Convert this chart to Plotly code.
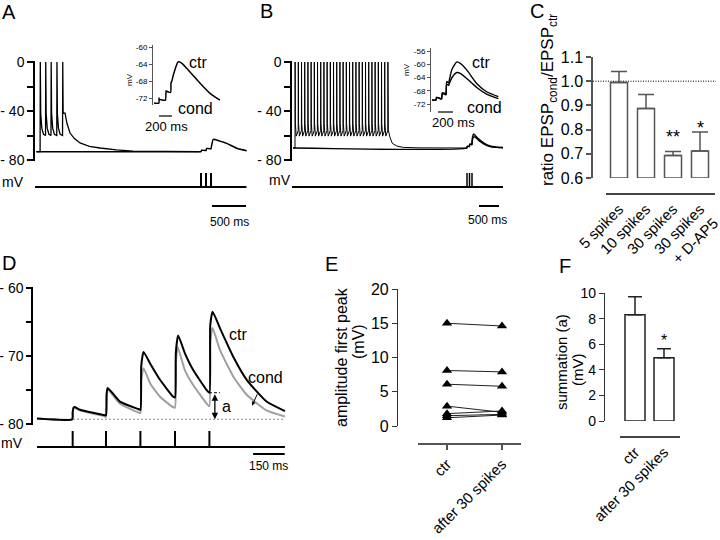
import plotly.graph_objects as go

W, H = 720, 540
FONT = "Liberation Sans, Arial, Helvetica, sans-serif"

# ----------------------------- DATA -----------------------------
# Panel A (time in ms, membrane potential in mV)
A_base = -73.2
A_start_t = 20
A_spike_t = [75, 155, 235, 320, 405]
A_spike_pre_v = -60
A_post_dt = [3, 9, 25, 50]
A_post_v = [0, -42, -54, -59]
A_decay_t = [441, 470, 515, 580, 662, 800, 956, 1200, 1441, 1900, 2416]
A_decay_v = [-41.6, -50.0, -58.0, -62.5, -66.1, -68.8, -70.2, -71.8, -72.7, -73.1, -73.2]
A_epsp_t = [2416, 2441, 2450, 2512, 2515, 2525, 2585, 2588, 2600, 2622, 2700, 2819, 2966, 3113]
A_epsp_v = [-73.2, -73.2, -72.0, -72.3, -72.3, -70.6, -70.9, -70.9, -67.5, -63.1, -64.3, -66.4, -70.4, -72.4]
A_stim_t = [2441, 2515, 2588]
A_stim_line_t = [0, 3110]
A_scale_t0 = 2603
A_scale_ms = 500

# Panel A inset
A_in_t = [15, 90, 92, 96, 190, 200, 206, 270, 277, 290, 313, 354, 385, 441, 518, 723, 877, 1031]
A_in_v = [-73.2, -73.2, -72.0, -72.3, -72.5, -70.3, -70.4, -70.7, -68.5, -68.0, -66.6, -64.6, -63.5,
          -63.8, -65.0, -68.5, -70.9, -72.5]
A_in_ticks = [-72, -68, -64, -60]
A_in_scale_t0 = 92
A_in_scale_ms = 200

# Panel B
B_base = -70.2
B_start_t = 25
B_spike_t = [75, 155, 235, 315, 395, 475, 555, 635, 715, 795, 875, 955, 1035, 1115, 1195,
             1275, 1355, 1435, 1515, 1595, 1675, 1755, 1835, 1915, 1995, 2075, 2155, 2235, 2315, 2395]
B_spike_pre_v = -56
B_post_dt = [3, 9, 30]
B_post_v = [0, -50, -60.5]
B_decay_t = [2408, 2450, 2508, 2618, 2783, 3200, 4375]
B_decay_v = [-55.5, -61.5, -66.4, -68.6, -69.7, -70.1, -70.2]
B_epsp_t = [4375, 4380, 4390, 4436, 4440, 4452, 4498, 4502, 4515, 4540, 4565, 4620, 4700, 4800, 4950, 5100, 5275]
B_ctr_v = [-70.2, -69.0, -68.8, -69.0, -67.5, -67.0, -67.3, -64.5, -61.0, -58.8, -59.4, -61.5, -63.8, -66.3, -68.6, -69.4, -69.8]
B_cond_v = [-70.2, -69.0, -68.8, -69.0, -67.5, -67.1, -67.4, -65.5, -63.0, -61.2, -61.1, -62.5, -64.8, -67.0, -69.0, -69.7, -70.0]
B_stim_t = [4375, 4438, 4500]
B_stim_line_t = [0, 5275]
B_scale_t0 = 4675
B_scale_ms = 500

# Panel B inset
B_in_t = [13, 67, 75, 135, 142, 150, 195, 200, 210, 235, 244, 280, 345, 400, 476, 609, 742, 898]
B_in_ctr = [-70.8, -70.8, -70.0, -70.4, -70.4, -68.6, -68.9, -68.9, -65.2, -65.6, -64.8, -61.5, -59.3, -59.9, -61.7, -65.8, -68.3, -69.8]
B_in_cond = [-70.8, -70.8, -70.0, -70.5, -70.5, -68.9, -69.2, -69.2, -66.0, -66.4, -65.8, -64.0, -62.5, -62.9, -64.3, -67.0, -69.0, -70.4]
B_in_ticks = [-72, -68, -64, -60, -56]
B_in_scale_t0 = 93
B_in_scale_ms = 200

# Panel C
C_cats = ["5 spikes", "10 spikes", "30 spikes", "30 spikes<br>+ D-AP5"]
C_mean = [0.995, 0.887, 0.693, 0.712]
C_err = [0.045, 0.058, 0.017, 0.078]
C_sig = ["", "", "**", "*"]
C_ticks = [0.6, 0.7, 0.8, 0.9, 1.0, 1.1]
C_base = 0.6
C_ref = 1.0

# Panel D
D_ctr_t = [19, 186, 188, 192, 197, 223, 341, 346, 349, 354, 412, 499, 509, 513, 524, 555, 602, 665,
           673, 677, 688, 720, 760, 823, 836, 840, 851, 886, 949, 1013, 1107, 1194]
D_ctr_v = [-79.2, -79.3, -78.3, -77.6, -77.5, -77.9, -78.7, -78.7, -75.6, -74.7, -76.7, -77.8, -77.9, -71.5, -69.4,
           -71.1, -73.5, -76.0, -76.1, -69.5, -67.0, -69.6, -72.1, -75.0, -75.4, -65.5, -63.5, -65.9, -70.1, -73.5, -76.7, -78.1]
D_cond_t = [19, 186, 188, 192, 197, 223, 341, 346, 349, 354, 412, 499, 509, 513, 524, 555, 602, 662,
            673, 677, 686, 720, 760, 823, 836, 840, 851, 886, 949, 1013, 1107, 1194]
D_cond_v = [-79.2, -79.3, -78.4, -77.7, -77.6, -78.0, -78.9, -79.0, -75.9, -74.9, -77.0, -78.3, -78.4, -73.5, -71.8,
            -74.0, -76.0, -77.5, -77.6, -71.0, -68.7, -72.1, -74.3, -77.0, -77.4, -68.0, -65.9, -69.1, -73.0, -75.7, -78.0, -78.9]
D_rest = -79.3
D_stim_t = [188, 346, 509, 673, 836]
D_stim_line_t = [19, 1194]
D_a_t = 862
D_a_top = -75.4
D_a_dash_t = [834, 886]
D_scale_t0 = 1043
D_scale_ms = 150
D_ticks = [-80, -75, -70, -65, -60]
D_ticktext = ["- 80", "", "- 70", "", "- 60"]

# Panel E
E_cats = ["ctr", "after 30 spikes"]
E_ctr = [15.0, 8.1, 6.1, 2.9, 1.8, 1.5, 1.2]
E_after = [14.6, 7.9, 5.8, 2.0, 2.2, 1.7, 1.6]
E_ticks = [0, 5, 10, 15, 20]

# Panel F
F_cats = ["ctr", "after 30 spikes"]
F_mean = [8.3, 4.95]
F_err = [1.4, 0.7]
F_sig = ["", "*"]
F_ticks = [0, 2, 4, 6, 8, 10]

# ----------------------------- HELPERS -----------------------------
def xd(p0, p1):
    return [p0 / W, p1 / W]

def yd(p0, p1):
    return [1 - p1 / H, 1 - p0 / H]

def yrng(ptop, pbot, pa, va, pb, vb):
    s = (vb - va) / (pb - pa)
    return [va + (pbot - pa) * s, va + (ptop - pa) * s]

def px(x):
    return x / W

def py(y):
    return 1 - y / H

def spike_train(t0, v0, spikes, pre_v, post_dt, post_v, decay_t, decay_v):
    t, v = [t0], [v0]
    for i, s in enumerate(spikes):
        t.append(s)
        v.append(v0 if i == 0 else pre_v)
        n = 2 if i == len(spikes) - 1 else len(post_dt)
        for dt, dv in zip(post_dt[:n], post_v[:n]):
            t.append(s + dt)
            v.append(dv)
    return t + list(decay_t), v + list(decay_v)

def ticks_trace(times, xa, ya, width=2):
    xs, ys = [], []
    for s in times:
        xs += [s, s, None]
        ys += [0, 1, None]
    return go.Scatter(x=xs, y=ys, mode="lines", line=dict(color="black", width=width),
                      xaxis=xa, yaxis=ya, hoverinfo="skip")

def hline(x0, x1, y, xa, ya, width=2, color="black", dash=None):
    return go.Scatter(x=[x0, x1], y=[y, y], mode="lines",
                      line=dict(color=color, width=width, dash=dash),
                      xaxis=xa, yaxis=ya, hoverinfo="skip")

def line_tr(t, v, xa, ya, width=1.5, color="black", shape="linear", smooth=None):
    ln = dict(color=color, width=width, shape=shape)
    if smooth is not None:
        ln["smoothing"] = smooth
    return go.Scatter(x=t, y=v, mode="lines", line=ln, xaxis=xa, yaxis=ya, hoverinfo="skip")

traces = []
# ---- A ----
A_cond_t, A_cond_v = spike_train(A_start_t, A_base, A_spike_t, A_spike_pre_v, A_post_dt, A_post_v,
                                 A_decay_t, A_decay_v)
traces.append(line_tr([A_start_t] + A_epsp_t, [A_base] + A_epsp_v, "x", "y", 1.5, shape="spline", smooth=0.6))
traces.append(line_tr(A_cond_t, A_cond_v, "x", "y", 1.3))
traces.append(hline(A_stim_line_t[0], A_stim_line_t[1], 0, "x", "y2"))
traces.append(ticks_trace(A_stim_t, "x", "y2"))
traces.append(hline(A_scale_t0, A_scale_t0 + A_scale_ms, -1.357, "x", "y2"))
# A inset
traces.append(line_tr(A_in_t, A_in_v, "x2", "y3", 1.5, shape="spline", smooth=0.6))
traces.append(hline(A_in_scale_t0, A_in_scale_t0 + A_in_scale_ms, 0, "x2", "y4", 1.5, "#333"))

# ---- B ----
B_cond_t, B_cond_vv = spike_train(B_start_t, B_base, B_spike_t, B_spike_pre_v, B_post_dt, B_post_v,
                                  B_decay_t, B_decay_v)
traces.append(line_tr(B_cond_t, B_cond_vv, "x3", "y5", 1.0))
traces.append(line_tr(B_epsp_t, B_cond_v, "x3", "y5", 1.4, shape="spline", smooth=0.6))
traces.append(line_tr([B_start_t] + B_epsp_t, [B_base] + B_ctr_v, "x3", "y5", 1.4, shape="spline", smooth=0.6))
traces.append(hline(B_stim_line_t[0], B_stim_line_t[1], 0, "x3", "y6"))
traces.append(ticks_trace(B_stim_t, "x3", "y6", 1.5))
traces.append(hline(B_scale_t0, B_scale_t0 + B_scale_ms, -1.357, "x3", "y6"))
# B inset
traces.append(line_tr(B_in_t, B_in_ctr, "x4", "y7", 1.4, shape="spline", smooth=0.6))
traces.append(line_tr(B_in_t, B_in_cond, "x4", "y7", 1.4, shape="spline", smooth=0.6))
traces.append(hline(B_in_scale_t0, B_in_scale_t0 + B_in_scale_ms, 0, "x4", "y8", 1.5, "#333"))

# ---- C ----
C_x = list(range(len(C_cats)))
# reference line at 1.0 spanning from the y axis to the right end (own hidden x axis)
traces.append(hline(0, 1, C_ref, "x9", "y9", 1, "black", "1px,1.5px"))
traces.append(go.Bar(x=C_x, y=[m - C_base for m in C_mean], base=[C_base] * len(C_mean), width=0.63,
                     marker=dict(color="white", line=dict(color="#555", width=1.5)),
                     error_y=dict(type="data", symmetric=False, array=C_err, arrayminus=[0] * len(C_err),
                                  color="#555", thickness=1.5, width=8),
                     xaxis="x5", yaxis="y9", hoverinfo="skip"))

# ---- D ----
traces.append(hline(D_stim_line_t[0], D_stim_line_t[1], D_rest, "x6", "y10", 1.2, "#888", "2px,2px"))
traces.append(line_tr(D_cond_t, D_cond_v, "x6", "y10", 2, "#a0a0a0", shape="spline", smooth=0.5))
traces.append(line_tr(D_ctr_t, D_ctr_v, "x6", "y10", 2, "black", shape="spline", smooth=0.5))
traces.append(hline(D_a_dash_t[0], D_a_dash_t[1], D_a_top, "x6", "y10", 1, "black", "3px,2px"))
traces.append(hline(D_stim_line_t[0], D_stim_line_t[1], 0, "x6", "y11"))
traces.append(ticks_trace(D_stim_t, "x6", "y11"))
traces.append(hline(D_scale_t0, D_scale_t0 + D_scale_ms, -0.4375, "x6", "y11"))

# ---- E ----
ex, ey = [], []
for c, a in zip(E_ctr, E_after):
    ex += [0, 1, None]
    ey += [c, a, None]
traces.append(go.Scatter(x=ex, y=ey, mode="lines+markers", line=dict(color="#222", width=1),
                         marker=dict(symbol="triangle-up", size=9, color="black"),
                         xaxis="x7", yaxis="y12", cliponaxis=False, hoverinfo="skip"))

# ---- F ----
F_x = list(range(len(F_cats)))
traces.append(go.Bar(x=F_x, y=F_mean, width=0.69,
                     marker=dict(color="white", line=dict(color="#222", width=1.5)),
                     error_y=dict(type="data", symmetric=False, array=F_err, arrayminus=[0] * len(F_err),
                                  color="#222", thickness=1.5, width=7),
                     xaxis="x8", yaxis="y13", hoverinfo="skip"))

fig = go.Figure(traces)

hid = dict(visible=False, fixedrange=True, showgrid=False, zeroline=False, automargin=False)

def vaxis(dom, rng, anchor, tickvals, ticktext, size, color="black", lw=1.5, tl=6, **kw):
    d = dict(domain=dom, range=rng, anchor=anchor, showline=True, linecolor=color, linewidth=lw,
             ticks="outside", ticklen=tl, tickwidth=lw, tickcolor=color, tickvals=tickvals,
             ticktext=ticktext, tickfont=dict(size=size, color="black", family=FONT),
             showgrid=False, zeroline=False, fixedrange=True, automargin=False,
             ticklabeloverflow="allow")
    d.update(kw)
    return d

def caxis(dom, rng, pos, vals, text, color, ticks="", **kw):
    d = dict(domain=dom, range=rng, anchor="free", position=pos, showline=True, linecolor=color,
             linewidth=1.5, ticks=ticks, ticklen=5, tickcolor=color, tickwidth=1.5,
             tickvals=vals, ticktext=text, tickangle=-45,
             tickfont=dict(size=15, family=FONT, color="black"), showgrid=False, zeroline=False,
             fixedrange=True, automargin=False, ticklabeloverflow="allow")
    d.update(kw)
    return d

A_PX_MS, AI_PX_MS, B_PX_MS, BI_PX_MS, D_PX_MS = 0.068, 0.065, 0.04, 0.075, 0.211
mv_ticks = [-80, -60, -40, -20, 0]
mv_text = ["- 80", "", "- 40", "", "0"]

fig.update_layout(
    template="none",
    width=W, height=H, margin=dict(l=0, r=0, t=0, b=0, pad=0), autosize=False,
    paper_bgcolor="white", plot_bgcolor="rgba(0,0,0,0)", showlegend=False,
    font=dict(family=FONT, color="black"),
    # A
    xaxis=dict(domain=xd(35, 250), range=[0, (250 - 35) / A_PX_MS], anchor="y", **hid),
    yaxis=vaxis(yd(61, 161), yrng(61, 161, 62, 0, 160, -80), "x", mv_ticks, mv_text, 14),
    yaxis2=dict(domain=yd(170, 212), range=[-1.786, 1.214], anchor="x", **hid),
    # A inset
    xaxis2=dict(domain=xd(153, 226), range=[0, (226 - 153) / AI_PX_MS], anchor="y3", **hid),
    yaxis3=vaxis(yd(45, 105), yrng(45, 105, 47, -60, 98, -72), "x2", A_in_ticks,
                 [str(v) for v in A_in_ticks], 8, "#555", 1, 3),
    yaxis4=dict(domain=yd(110, 122), range=[-1, 1], anchor="x2", **hid),
    # B
    xaxis3=dict(domain=xd(292, 505), range=[0, (505 - 292) / B_PX_MS], anchor="y5", **hid),
    yaxis5=vaxis(yd(61, 161), yrng(61, 161, 62, 0, 160, -80), "x3", mv_ticks, mv_text, 14),
    yaxis6=dict(domain=yd(170, 212), range=[-1.786, 1.214], anchor="x3", **hid),
    # B inset
    xaxis4=dict(domain=xd(431, 500), range=[0, (500 - 431) / BI_PX_MS], anchor="y7", **hid),
    yaxis7=vaxis(yd(48, 112), yrng(48, 112, 51, -56, 104, -72), "x4", B_in_ticks,
                 [str(v) for v in B_in_ticks], 8, "#555", 1, 3),
    yaxis8=dict(domain=yd(106, 118), range=[-1, 1], anchor="x4", **hid),
    # C
    xaxis5=caxis(xd(606, 715), [(606 - 619) / 27, (715 - 619) / 27], py(194), C_x, C_cats, "#444"),
    xaxis9=dict(domain=xd(593, 716), range=[0, 1], anchor="free", position=py(194), **hid),
    yaxis9=vaxis(yd(57, 178), [0.6, 1.1], "free", C_ticks, ["%.1f" % v for v in C_ticks], 16,
                 "#555", 1.5, 5, position=px(592)),
    # D
    xaxis6=dict(domain=xd(33, 290), range=[0, (290 - 33) / D_PX_MS], anchor="y10", **hid),
    yaxis10=vaxis(yd(287, 425), yrng(287, 425, 288, -60, 424, -80), "x6", D_ticks, D_ticktext, 14, tl=5),
    yaxis11=dict(domain=yd(428, 462), range=[-0.9375, 1.1875], anchor="x6", **hid),
    # E
    xaxis7=caxis(xd(418, 521), [-0.527, 1.345], py(444), [0, 1], E_cats, "#555", ticks="outside"),
    yaxis12=vaxis(yd(289, 426), [0, 20], "free", E_ticks, [str(v) for v in E_ticks], 16,
                  "#333", 1.2, 5, position=px(397)),
    # F
    xaxis8=caxis(xd(620, 680), [-0.517, 1.552], py(437), F_x, F_cats, "#444"),
    yaxis13=vaxis(yd(293, 421), [0, 10], "free", F_ticks, [str(v) for v in F_ticks], 14,
                  "#333", 1.2, 5, position=px(604)),
)

ann = []

def label(text, x, y, size, color="black", angle=0, xanchor="center", yanchor="middle"):
    ann.append(dict(text=text, x=px(x), y=py(y), xref="paper", yref="paper", showarrow=False,
                    font=dict(size=size, color=color, family=FONT), textangle=angle,
                    xanchor=xanchor, yanchor=yanchor))

# panel letters
for t, x, y in [("A", 9, 12), ("B", 266, 11), ("C", 537, 11), ("D", 9, 263), ("E", 331, 264), ("F", 565, 266)]:
    label(t, x, y, 20)
# mV labels
label("mV", 13, 182, 14)
label("mV", 280, 180, 14)
label("mV", 12, 443, 14)
# scale bar texts
label("500 ms", 229, 222, 12)
label("500 ms", 487, 220, 12)
label("150 ms", 268, 466, 12)
label("200 ms", 166, 126, 13)
label("200 ms", 453, 123, 13)
# inset labels
label("mV", 129, 80, 8, angle=-90)
label("mV", 406, 70, 8, angle=-90)
label("ctr", 198, 62, 16)
label("cond", 196, 109, 16)
label("ctr", 481, 62, 16)
label("cond", 484, 107, 16)
# titles
label("ratio EPSP<sub>cond</sub>/EPSP<sub>ctr</sub>", 549, 100, 17, angle=-90)
label("amplitude first peak", 341, 357, 16, angle=-90)
label("(mV)", 358, 342, 16, angle=-90)
label("summation (a)", 561, 362, 15, angle=-90)
label("(mV)", 577, 370, 15, angle=-90)

# significance marks (data coords)
C_sig_shift = [0, 0, 2, -8]
for i, s in enumerate(C_sig):
    if s:
        ann.append(dict(text=s, x=C_x[i], y=C_mean[i] + C_err[i], xref="x5", yref="y9", showarrow=False,
                        yanchor="bottom", yshift=C_sig_shift[i], font=dict(size=18, family=FONT)))
for i, s in enumerate(F_sig):
    if s:
        ann.append(dict(text=s, x=F_x[i], y=F_mean[i] + F_err[i], xref="x8", yref="y13", showarrow=False,
                        yanchor="bottom", yshift=-2, font=dict(size=16, family=FONT)))

# D annotations
ann.append(dict(text="", x=D_a_t, y=D_rest, ax=D_a_t, ay=D_a_top, xref="x6", yref="y10", axref="x6",
                ayref="y10", showarrow=True, arrowhead=2, arrowside="end+start", arrowsize=1,
                arrowwidth=1.3, arrowcolor="black"))
ann.append(dict(text="a", x=915, y=-77.4, xref="x6", yref="y10", showarrow=False, font=dict(size=16, family=FONT)))
ann.append(dict(text="ctr", x=972, y=-66.9, xref="x6", yref="y10", showarrow=False, font=dict(size=16, family=FONT)))
ann.append(dict(text="cond", x=1100, y=-73.2, xref="x6", yref="y10", showarrow=False, font=dict(size=16, family=FONT)))
ann.append(dict(text="", x=1038, y=-77.3, ax=1066, ay=-75.4, xref="x6", yref="y10", axref="x6",
                ayref="y10", showarrow=True, arrowhead=2, arrowsize=0.8, arrowwidth=1, arrowcolor="black"))

fig.update_layout(annotations=ann)
fig.write_html("out.html", config={"displayModeBar": False},
               post_script="document.body.style.margin='0px';")
